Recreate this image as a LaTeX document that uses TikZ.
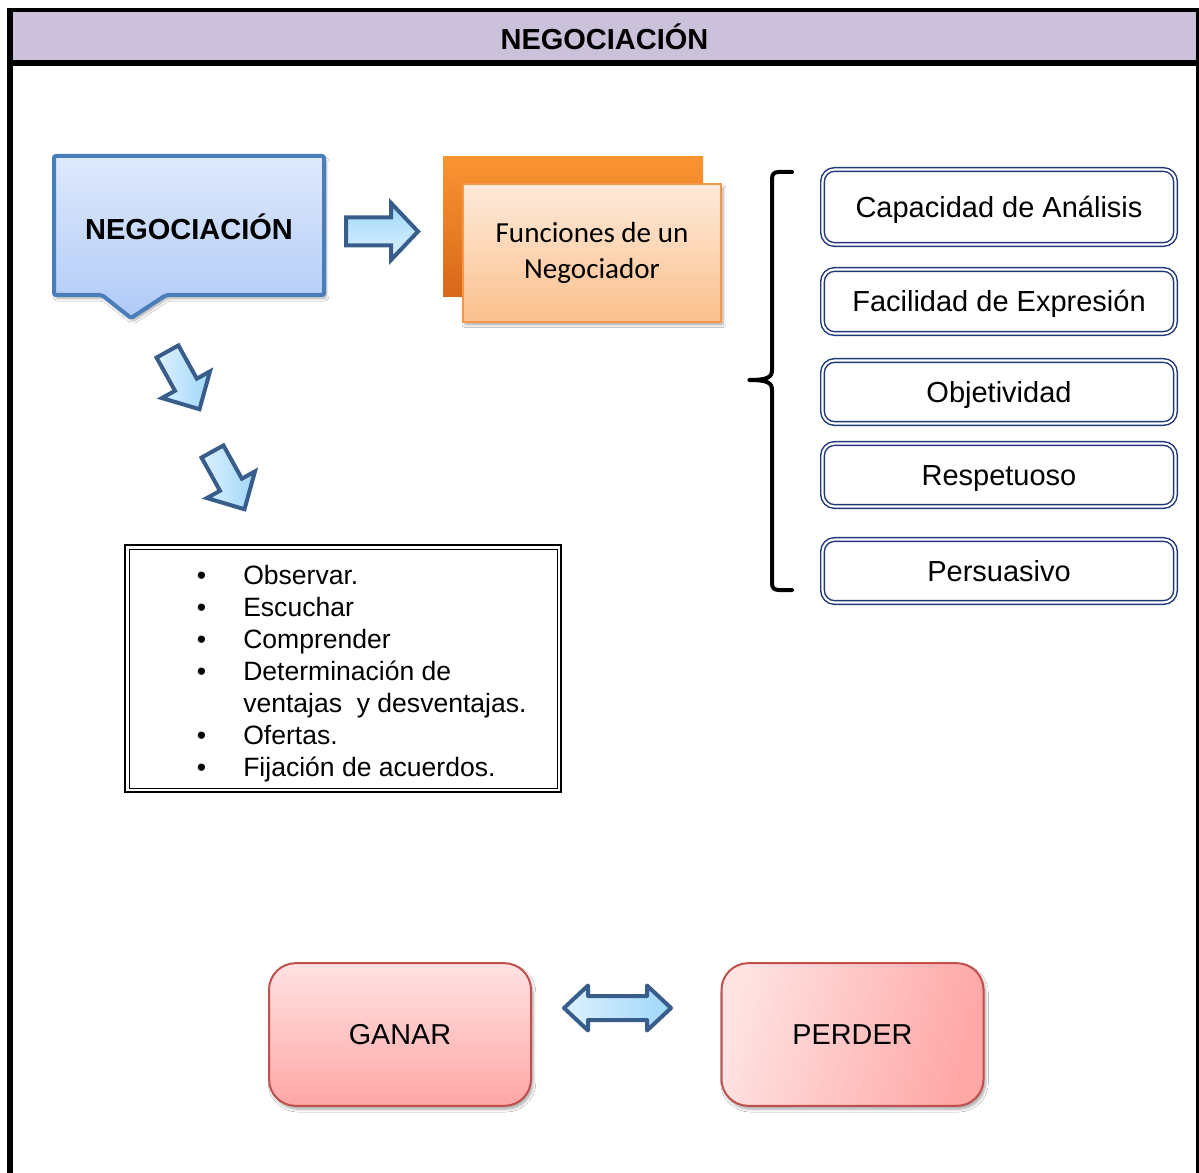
\documentclass[tikz,border=0pt]{standalone}
\usepackage{fontspec}
\setmainfont{Liberation Sans}
\newfontfamily\calibrifont{Carlito}
\usetikzlibrary{shadows.blur}

\definecolor{headfill}{RGB}{204,193,218}
\definecolor{calloutedge}{RGB}{74,126,187}
\definecolor{callouttop}{RGB}{222,233,252}
\definecolor{calloutbot}{RGB}{176,202,247}
\definecolor{arrowedge}{RGB}{56,93,138}
\definecolor{arrowlight}{RGB}{222,241,253}
\definecolor{arrowdark}{RGB}{158,215,250}
\definecolor{orangeback}{RGB}{250,148,50}
\definecolor{orangebackdark}{RGB}{214,104,26}
\definecolor{orangeedge}{RGB}{247,150,70}
\definecolor{orangetop}{RGB}{254,234,218}
\definecolor{orangebot}{RGB}{251,192,141}
\definecolor{traitedge}{RGB}{31,56,120}
\definecolor{pinkedge}{RGB}{192,80,77}
\definecolor{pinklight}{RGB}{255,226,226}
\definecolor{pinkdark}{RGB}{255,166,166}

\begin{document}
\begin{tikzpicture}[x=0.75pt,y=-0.75pt,
  softshadow/.style={blur shadow={shadow xshift=1.5pt, shadow yshift=-2.5pt,
      shadow blur steps=6, shadow opacity=35}},
  boldtext/.style={font=\fontsize{21.75pt}{26pt}\selectfont\bfseries},
  blockarrow/.style={draw=arrowedge, line width=3pt, line join=miter},
  trait/.style={draw=traitedge, line width=1.1pt, double=white,
      double distance=1.6pt, rounded corners=9pt, minimum width=264.7pt,
      inner sep=0pt, text height=15.6pt, text depth=0pt,
      font=\fontsize{21.75pt}{26pt}\selectfont},
  outcome/.style={draw=pinkedge, line width=1.5pt, rounded corners=20pt,
      minimum width=196.5pt, minimum height=107pt, softshadow,
      font=\fontsize{21.6pt}{26pt}\selectfont},
]
\useasboundingbox (0,0) rectangle (1199,1173);
\fill[white] (0,0) rectangle (1199,1173);

% title band and frame
\node[fill=headfill, minimum width=888pt, minimum height=36pt, inner sep=0pt,
      boldtext] (title) at (604.5,36.5) {NEGOCIACIÓN};
\draw[line width=3pt] (7,10) -- (1199,10);
\draw[line width=4.5pt] (7,63) -- (1199,63);
\draw[line width=4.5pt] (10,8) -- (10,1173);
\draw[line width=3pt] (1198,8) -- (1198,1173);

% callout box
\path[draw=calloutedge, line width=3pt, rounded corners=1.5pt,
      top color=callouttop, bottom color=calloutbot, softshadow]
  (54,156) -- (324,156) -- (324,295) -- (166,295) -- (131,318)
  -- (102,295) -- (54,295) -- cycle;
\node[boldtext] (neg) at (189,227) {NEGOCIACIÓN};

% arrow towards the functions card
\path[blockarrow, top color=arrowdark, bottom color=arrowlight]
  (346,217.5) -- (391,217.5) -- (391,203) -- (418,231.5) -- (391,260)
  -- (391,245.5) -- (346,245.5) -- cycle;

% functions card
\node[fill=orangeback, top color=orangeback, bottom color=orangebackdark,
      minimum width=195pt, minimum height=105pt, inner sep=0pt]
  (funcback) at (573,227) {};
\node[draw=orangeedge, line width=1.5pt, top color=orangetop,
      bottom color=orangebot, minimum width=193.5pt, minimum height=102.75pt,
      inner sep=0pt, align=center, softshadow,
      font=\calibrifont\fontsize{21.8pt}{27pt}\selectfont]
  (func) at (592,253) {Funciones de un\\Negociador};

% diagonal arrows towards the list
\begin{scope}[shift={(167.5,351.5)}, rotate=-61]
  \path[blockarrow, left color=arrowlight, right color=arrowdark]
    (0,-12.5) -- (38,-12.5) -- (38,-27.5) -- (66,0) -- (38,27.5)
    -- (38,12.5) -- (0,12.5) -- cycle;
\end{scope}
\begin{scope}[shift={(212.5,451.5)}, rotate=-61]
  \path[blockarrow, left color=arrowlight, right color=arrowdark]
    (0,-12.5) -- (38,-12.5) -- (38,-27.5) -- (66,0) -- (38,27.5)
    -- (38,12.5) -- (0,12.5) -- cycle;
\end{scope}

% list of steps
\draw[line width=1.6pt] (125,545) rectangle (561,792);
\draw[line width=0.7pt] (129,549) rectangle (557,788);
\node[anchor=north west, inner sep=0pt,
      font=\fontsize{19.9pt}{24pt}\selectfont] (steps) at (196.5,562) {%
  \begin{tabular}{@{}p{34.9pt}@{}l@{}}
  • & Observar.\\
  • & Escuchar\\
  • & Comprender\\
  • & Determinación de\\
    & ventajas\ \ y desventajas.\\
  • & Ofertas.\\
  • & Fijación de acuerdos.
  \end{tabular}};

% bracket grouping the traits
\draw[line width=3pt, line cap=round, line join=round]
  (792,172) -- (779,172) .. controls (774,172) and (772,174) .. (772,179)
  -- (772,370) .. controls (772,377) and (768,380) .. (749,380)
  .. controls (768,380) and (772,383) .. (772,390)
  -- (772,583) .. controls (772,588) and (774,590) .. (779,590) -- (792,590);

% traits of a negotiator
\node[trait, minimum height=56.25pt] (t1) at (999,207) {Capacidad de Análisis};
\node[trait, minimum height=48pt] (t2) at (999,301.5) {Facilidad de Expresión};
\node[trait, minimum height=47.25pt] (t3) at (999,392) {Objetividad};
\node[trait, minimum height=47.25pt] (t4) at (999,475) {Respetuoso};
\node[trait, minimum height=47.25pt] (t5) at (999,571) {Persuasivo};

% outcomes
\node[outcome, top color=pinklight, bottom color=pinkdark] (ganar)
  at (400,1034.5) {GANAR};
\node[outcome, left color=pinklight, right color=pinkdark, shading angle=75]
  (perder) at (852.5,1034.5) {PERDER};
\path[blockarrow, line join=round, left color=arrowlight, right color=arrowdark]
  (564,1008) -- (588,985.5) -- (588,996) -- (647,996) -- (647,985.5)
  -- (671,1008) -- (647,1030.5) -- (647,1020) -- (588,1020) -- (588,1030.5)
  -- cycle;
\end{tikzpicture}
\end{document}
